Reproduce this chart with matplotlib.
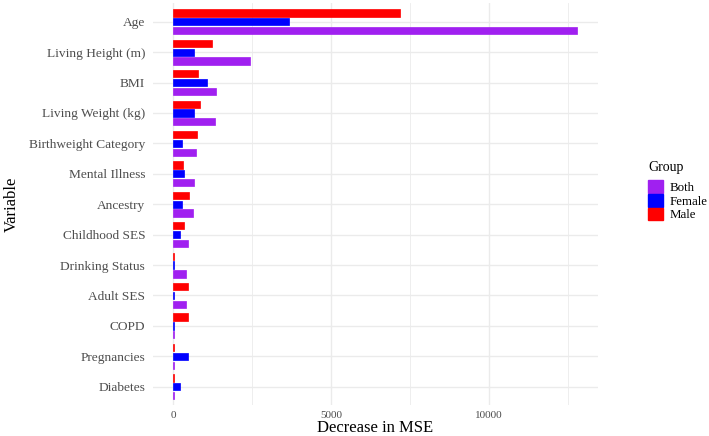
import matplotlib
matplotlib.use("Agg")
import matplotlib.pyplot as plt
from matplotlib.patches import Patch
import numpy as np

plt.rcParams['font.family'] = ['Liberation Serif', 'DejaVu Serif']

variables = ["Age", "Living Height (m)", "BMI", "Living Weight (kg)",
             "Birthweight Category", "Mental Illness", "Ancestry",
             "Childhood SES", "Drinking Status", "Adult SES", "COPD",
             "Pregnancies", "Diabetes"]
male   = [7190, 1245, 790, 845, 760, 330, 520, 360, 30, 480, 460, 20, 20]
female = [3665, 665, 1075, 665, 280, 340, 280, 215, 25, 30, 30, 490, 230]
both   = [12810, 2440, 1370, 1340, 730, 660, 620, 480, 400, 400, 20, 20, 20]
xticks = [0, 5000, 10000]
xtick_labels = ["0", "5000", "10000"]

c_both, c_female, c_male = "#A020F0", "#0000FF", "#FF0000"

W, H = 709, 436
fig = plt.figure(figsize=(W / 100, H / 100), dpi=100)
ax = fig.add_axes([0.2155, 0.0711, 0.843 - 0.2155, 0.992 - 0.0711])

y = np.arange(len(variables))
h = 0.24
off = 0.29
ax.barh(y - off, male, height=h, color=c_male, edgecolor=c_male, linewidth=0.5, zorder=3)
ax.barh(y, female, height=h, color=c_female, edgecolor=c_female, linewidth=0.5, zorder=3)
ax.barh(y + off, both, height=h, color=c_both, edgecolor=c_both, linewidth=0.5, zorder=3)

ax.set_ylim(len(variables) - 0.4, -0.6)
ax.set_xlim(-640, 13450)
ax.set_yticks(y)
ax.set_yticklabels(variables, fontsize=9.6, color="#4D4D4D")
ax.set_xticks(xticks)
ax.set_xticklabels(xtick_labels, fontsize=8, color="#4D4D4D")
ax.set_xticks([2500, 7500, 12500], minor=True)
ax.tick_params(axis='both', which='both', length=0)
ax.tick_params(axis='y', pad=5.5)
ax.tick_params(axis='x', pad=4)

ax.grid(True, which='major', color="#EBEBEB", linewidth=1.0, zorder=0)
ax.grid(True, which='minor', axis='x', color="#EBEBEB", linewidth=0.6, zorder=0)
for s in ax.spines.values():
    s.set_visible(False)

fig.text(375 / W, 1 - 428 / H, "Decrease in MSE", fontsize=12,
         ha="center", va="center")
fig.text(12 / W, 1 - 204 / H, "Variable", fontsize=12, rotation=90,
         ha="center", va="center")

fig.text(648 / W, 1 - 167 / H, "Group", fontsize=10, ha="left", va="center")
handles = [Patch(facecolor=c_both, edgecolor=c_both, label="Both"),
           Patch(facecolor=c_female, edgecolor=c_female, label="Female"),
           Patch(facecolor=c_male, edgecolor=c_male, label="Male")]
leg = fig.legend(handles=handles, loc="upper left",
                 bbox_to_anchor=(648 / W, 1 - 180 / H), frameon=False,
                 fontsize=9.3, handlelength=1.15,
                 handleheight=1.15, handletextpad=0.55, labelspacing=0.0,
                 borderaxespad=0, borderpad=0)

fig.savefig("out.png", dpi=100)
